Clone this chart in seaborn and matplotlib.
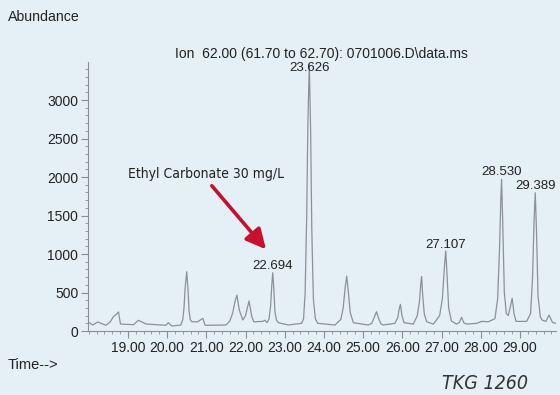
import matplotlib
matplotlib.use("Agg")
import matplotlib.pyplot as plt
from matplotlib.ticker import MultipleLocator
import seaborn as sns
import pandas as pd

# Ion trace (m/z 62) read point by point: retention time (min) and abundance
time_min = [
    17.98, 18.10, 18.23, 18.44, 18.55, 18.63, 18.70, 18.76, 18.81, 19.14,
    19.27, 19.46, 19.97, 20.03, 20.12, 20.35, 20.40, 20.43, 20.46, 20.50,
    20.53, 20.56, 20.59, 20.63, 20.78, 20.91, 20.97, 21.50, 21.60, 21.67,
    21.73, 21.78, 21.84, 21.93, 22.00, 22.04, 22.09, 22.16, 22.21, 22.44,
    22.49, 22.55, 22.60, 22.64, 22.67, 22.694, 22.72, 22.75, 22.79, 22.84,
    23.09, 23.43, 23.48, 23.52, 23.56, 23.59, 23.626, 23.66, 23.69, 23.73,
    23.78, 23.84, 24.28, 24.43, 24.49, 24.54, 24.58, 24.62, 24.67, 24.75,
    25.13, 25.22, 25.30, 25.34, 25.39, 25.45, 25.51, 25.81, 25.88, 25.92,
    25.95, 25.99, 26.04, 26.28, 26.38, 26.44, 26.47, 26.49, 26.52, 26.56,
    26.62, 26.79, 26.95, 27.02, 27.07, 27.107, 27.14, 27.18, 27.25, 27.38,
    27.45, 27.51, 27.57, 27.64, 27.90, 28.02, 28.19, 28.36, 28.43, 28.48,
    28.51, 28.530, 28.56, 28.60, 28.65, 28.70, 28.76, 28.80, 28.85, 28.90,
    29.17, 29.27, 29.32, 29.36, 29.389, 29.42, 29.46, 29.52, 29.57, 29.66,
    29.74, 29.83, 29.92,
]
abundance = [
    120, 78, 117, 74, 120, 186, 215, 247, 91, 82,
    139, 91, 74, 108, 65, 78, 150, 300, 560, 770,
    560, 260, 150, 120, 120, 165, 74, 78, 130, 230,
    380, 467, 273, 143, 200, 290, 390, 186, 120, 125,
    140, 110, 160, 330, 600, 757, 560, 250, 140, 108,
    78, 100, 160, 500, 1500, 2700, 3470, 2600, 1300, 420,
    160, 100, 78, 150, 300, 560, 714, 520, 240, 108,
    78, 100, 200, 250, 170, 95, 78, 100, 170, 290,
    346, 200, 108, 90, 200, 400, 620, 705, 450, 220,
    120, 90, 200, 420, 820, 1040, 720, 300, 130, 90,
    110, 178, 105, 90, 100, 125, 120, 160, 420, 1100,
    1700, 1970, 1400, 500, 230, 200, 330, 425, 220, 125,
    125, 230, 700, 1450, 1796, 1300, 450, 180, 140, 125,
    208, 110, 100,
]

# Labelled peaks: retention time, apex abundance
peak_times = [22.694, 23.626, 27.107, 28.530, 29.389]
peak_heights = [757, 3470, 1040, 1970, 1796]
peak_labels = ["22.694", "23.626", "27.107", "28.530", "29.389"]
peak_offsets = [4.7, -3.0, 4.3, 5.0, 5.0]  # label centre above apex, points

y_ticks = [0, 500, 1000, 1500, 2000, 2500, 3000]
x_ticks = [19, 20, 21, 22, 23, 24, 25, 26, 27, 28, 29]
x_ticklabels = ["19.00", "20.00", "21.00", "22.00", "23.00", "24.00",
                "25.00", "26.00", "27.00", "28.00", "29.00"]

bg = "#e4eff6"
ink = "#222222"
axis_grey = "#8a8f94"

sns.set_style("ticks")
plt.rcParams["font.family"] = ["Liberation Sans", "DejaVu Sans"]

fig = plt.figure(figsize=(5.6, 3.95), dpi=100, facecolor=bg)
ax = fig.add_axes([0.157, 0.162, 0.836, 0.681])
ax.set_facecolor(bg)

trace = pd.DataFrame({"time": time_min, "abundance": abundance})
sns.lineplot(data=trace, x="time", y="abundance", ax=ax, sort=False,
             estimator=None, color="#8c9196", linewidth=0.9)

ax.set_xlim(17.98, 29.92)
ax.set_ylim(0, 3494)
ax.set_xlabel("")
ax.set_ylabel("")

ax.set_xticks(x_ticks)
ax.set_xticklabels(x_ticklabels)
ax.set_yticks(y_ticks)
ax.xaxis.set_minor_locator(MultipleLocator(0.2))
ax.yaxis.set_minor_locator(MultipleLocator(100))
ax.tick_params(axis="both", which="major", direction="out", length=5,
               width=0.8, color=axis_grey, labelsize=10, labelcolor=ink, pad=2)
ax.tick_params(axis="both", which="minor", direction="out", length=2.5,
               width=0.6, color=axis_grey)

for side in ("top", "right"):
    ax.spines[side].set_visible(False)
for side in ("left", "bottom"):
    ax.spines[side].set_color(axis_grey)
    ax.spines[side].set_linewidth(0.8)

# Retention-time labels above the peaks
for t, h, lab, off in zip(peak_times, peak_heights, peak_labels, peak_offsets):
    ax.annotate(lab, xy=(t, h), xytext=(0, off), textcoords="offset points",
                ha="center", va="center", fontsize=9.5, color=ink)

narrow = ["DejaVu Sans", "Liberation Sans"]

# Callout for the ethyl carbamate standard
ax.annotate("", xy=(22.52, 1061), xytext=(21.14, 1887),
            arrowprops=dict(arrowstyle="-|>,head_length=1.2,head_width=0.6",
                            color="#c8102e", lw=2.6, shrinkA=0, shrinkB=0))
ax.text(20.98, 2036, "Ethyl Carbonate 30 mg/L", ha="center", va="center",
        fontsize=10, color=ink, family=narrow, fontstretch="condensed")

fig.text(0.5745, 0.863, "Ion  62.00 (61.70 to 62.70): 0701006.D\\data.ms",
         ha="center", va="center", fontsize=10, color=ink)
fig.text(0.014, 0.957, "Abundance", ha="left", va="center",
         fontsize=10.2, color=ink)
fig.text(0.013, 0.076, "Time-->", ha="left", va="center",
         fontsize=10.5, color=ink)
fig.text(0.943, 0.028, "TKG 1260", ha="right", va="center", fontsize=14,
         style="italic", color="#333333", family=narrow,
         fontstretch="condensed")

fig.savefig("out.png", dpi=100, facecolor=bg)
